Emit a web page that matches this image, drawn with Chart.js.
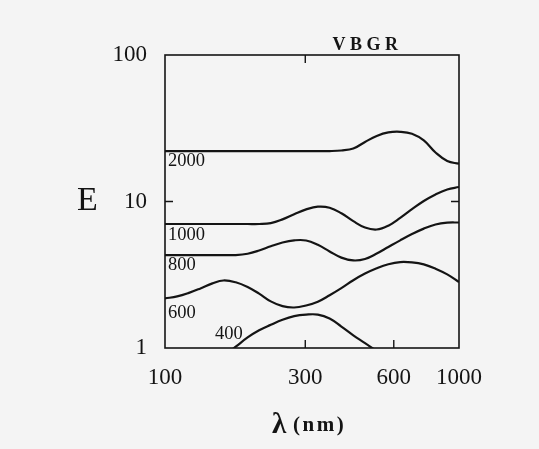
<!DOCTYPE html>
<html>
<head>
<meta charset="utf-8">
<script src="https://cdn.jsdelivr.net/npm/chart.js@4/dist/chart.umd.min.js"></script>
<style>
  html, body { margin: 0; padding: 0; background: #f4f4f4; }
  canvas { display: block; }
</style>
</head>
<body>
<canvas id="c" width="539" height="449"></canvas>
<script>
// ---- data ----
const wavelength = [100,110,120,132,145,158,174,191,209,229,251,275,302,331,363,398,437,479,525,575,631,692,759,832,912,1000];
const e2000 = [22.1,22.1,22.1,22.1,22.1,22.1,22.1,22.1,22.1,22.1,22.1,22.1,22.1,22.1,22.1,22.3,23.0,25.5,28.0,29.6,29.9,29.0,26.1,21.6,18.9,18.1];
const e1000 = [7.02,7.02,7.02,7.02,7.02,7.02,7.02,7.02,7.02,7.12,7.55,8.19,8.83,9.22,9.07,8.31,7.34,6.64,6.44,6.84,7.73,8.86,10.08,11.18,12.08,12.56];
const e800  = [4.31,4.31,4.31,4.31,4.31,4.31,4.31,4.40,4.63,4.95,5.25,5.43,5.42,5.06,4.56,4.14,3.96,4.05,4.41,4.89,5.43,5.99,6.53,6.97,7.17,7.19];
const e600  = [2.18,2.25,2.37,2.55,2.76,2.89,2.81,2.61,2.35,2.08,1.93,1.89,1.95,2.07,2.29,2.56,2.90,3.22,3.50,3.73,3.86,3.84,3.72,3.48,3.18,2.82];
const e400  = [null,null,null,null,null,0.88,1.02,1.18,1.32,1.44,1.56,1.65,1.69,1.69,1.59,1.40,1.22,1.08,0.95,null,null,null,null,null,null,null];
const seriesNames = ['2000','1000','800','600','400'];
const seriesValues = [e2000, e1000, e800, e600, e400];
const xTicks = [100, 300, 600, 1000];
const yTicks = [1, 10, 100];
const bandLabel = 'V B G R';
const yTitle = 'E';
const xTitleSymbol = 'λ';
const xTitleUnit = '(nm)';

const SERIF = "'Liberation Serif', 'Times New Roman', serif";
const INK = '#141414';

const datasets = seriesValues.map((vals, i) => ({
  label: seriesNames[i],
  data: wavelength.map((w, j) => vals[j] == null ? null : { x: w, y: vals[j] }).filter(p => p),
  borderColor: INK,
  borderWidth: 2.2,
  pointRadius: 0,
  fill: false,
  tension: 0.4
}));

const decor = {
  id: 'decor',
  beforeDraw(chart) {
    const ctx = chart.ctx;
    ctx.save();
    ctx.fillStyle = '#f4f4f4';
    ctx.fillRect(0, 0, chart.width, chart.height);
    ctx.restore();
  },
  afterDraw(chart) {
    const ctx = chart.ctx;
    const a = chart.chartArea;
    const xs = chart.scales.x, ys = chart.scales.y;
    ctx.save();
    // frame
    ctx.strokeStyle = INK;
    ctx.lineWidth = 1.6;
    ctx.strokeRect(a.left, a.top, a.right - a.left, a.bottom - a.top);
    // inward tick marks
    ctx.lineWidth = 1.4;
    const tl = 8;
    ctx.beginPath();
    xTicks.slice(1, -1).forEach(v => {
      const px = xs.getPixelForValue(v);
      ctx.moveTo(px, a.bottom); ctx.lineTo(px, a.bottom - tl);
    });
    const pTop = xs.getPixelForValue(xTicks[1]);
    ctx.moveTo(pTop, a.top); ctx.lineTo(pTop, a.top + tl);
    yTicks.slice(1, -1).forEach(v => {
      const py = ys.getPixelForValue(v);
      ctx.moveTo(a.left, py); ctx.lineTo(a.left + tl, py);
      ctx.moveTo(a.right, py); ctx.lineTo(a.right - tl, py);
    });
    ctx.stroke();

    ctx.fillStyle = INK;
    // curve labels
    ctx.font = '18.5px ' + SERIF;
    ctx.textBaseline = 'middle';
    ctx.textAlign = 'left';
    const offs = [10.5, 11.5, 10.5, 14.5];
    for (let i = 0; i < 4; i++) {
      const py = ys.getPixelForValue(seriesValues[i][0]);
      ctx.fillText(seriesNames[i], a.left + 3, py + offs[i]);
    }
    ctx.textAlign = 'right';
    const firstIdx = e400.findIndex(v => v != null);
    ctx.fillText(seriesNames[4], xs.getPixelForValue(wavelength[firstIdx + 1]) + 7, a.bottom - 14);

    // band label at top
    ctx.font = 'bold 18px ' + SERIF;
    ctx.textAlign = 'center';
    ctx.textBaseline = 'alphabetic';
    ctx.fillText(bandLabel, xs.getPixelForValue(480), a.top - 5.5);

    // y title
    ctx.font = '34px ' + SERIF;
    ctx.textAlign = 'left';
    ctx.textBaseline = 'middle';
    ctx.fillText(yTitle, 77, ys.getPixelForValue(10));

    // x title
    ctx.textBaseline = 'alphabetic';
    ctx.font = 'bold 29px ' + SERIF;
    ctx.fillText(xTitleSymbol, 272, 433);
    ctx.font = 'bold 21px ' + SERIF;
    try { ctx.letterSpacing = '2.5px'; } catch (e) {}
    ctx.fillText(xTitleUnit, 293, 431);
    ctx.restore();
  }
};

new Chart(document.getElementById('c'), {
  type: 'line',
  data: { datasets },
  plugins: [decor],
  options: {
    responsive: false,
    devicePixelRatio: 1,
    animation: false,
    layout: { padding: { top: 55, right: 80, left: 0, bottom: 0 } },
    plugins: { legend: { display: false }, tooltip: { enabled: false } },
    scales: {
      x: {
        type: 'logarithmic',
        position: 'bottom',
        min: 100, max: 1000,
        grid: { display: false, drawTicks: false },
        border: { display: false },
        afterBuildTicks: s => { s.ticks = xTicks.map(v => ({ value: v })); },
        afterFit: s => { s.height = 101; },
        ticks: {
          autoSkip: false, maxRotation: 0, padding: 16,
          color: INK,
          font: { family: SERIF, size: 23 },
          callback: v => String(v)
        }
      },
      y: {
        type: 'logarithmic',
        position: 'left',
        min: 1, max: 100,
        grid: { display: false, drawTicks: false },
        border: { display: false },
        afterBuildTicks: s => { s.ticks = yTicks.map(v => ({ value: v })); },
        afterFit: s => { s.width = 165; },
        ticks: {
          autoSkip: false, padding: 18,
          color: INK,
          font: { family: SERIF, size: 23 },
          callback: v => String(v)
        }
      }
    }
  }
});
</script>
</body>
</html>
